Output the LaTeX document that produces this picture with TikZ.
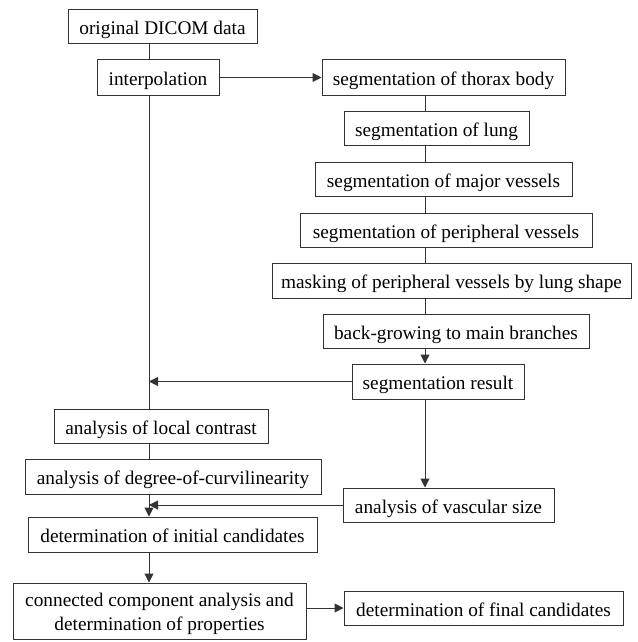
\documentclass[tikz,border=0pt]{standalone}
\usepackage{fontspec}
\setmainfont{Liberation Serif}
\usetikzlibrary{arrows.meta}
\begin{document}
\begin{tikzpicture}[x=1pt,y=-1pt,
  box/.style={draw=black!80, line width=1pt, inner sep=0pt, align=center,
    text height=16pt, text depth=0pt,
    font=\fontsize{19.3}{24}\selectfont},
  link/.style={draw=black!80, line width=1pt},
  arr/.style={link, -{Triangle[length=9pt,width=9pt]}}]
\useasboundingbox (0,0) rectangle (637,642);
\coordinate (L) at (149,0);
\coordinate (R) at (425,0);
\node[box, minimum width=189, minimum height=34] (dicom) at (162.5,27) {original DICOM data};
\node[box, minimum width=122, minimum height=35] (interp) at (158,77.5) {interpolation};
\node[box, minimum width=243, minimum height=35] (thorax) at (443.5,77.5) {segmentation of thorax body};
\node[box, minimum width=185, minimum height=34] (lung) at (436.5,128) {segmentation of lung};
\node[box, minimum width=257, minimum height=34] (major) at (443.5,179) {segmentation of major vessels};
\node[box, minimum width=292, minimum height=34] (periph) at (446,230) {segmentation of peripheral vessels};
\node[box, minimum width=359, minimum height=35] (mask) at (451.5,280.5) {masking of peripheral vessels by lung shape};
\node[box, minimum width=266, minimum height=34] (back) at (456,331) {back-growing to main branches};
\node[box, minimum width=172, minimum height=35] (result) at (438,381.5) {segmentation result};
\node[box, minimum width=214, minimum height=34] (local) at (161,426) {analysis of local contrast};
\node[box, minimum width=296, minimum height=35] (curv) at (173,476.5) {analysis of degree-of-curvilinearity};
\node[box, minimum width=211, minimum height=34] (vasc) at (448.5,505) {analysis of vascular size};
\node[box, minimum width=289, minimum height=35] (init) at (172.5,534.5) {determination of initial candidates};
\node[box, minimum width=293, minimum height=56, text height=38pt] (conn) at (159.5,611) {connected component analysis and\\determination of properties};
\node[box, minimum width=279, minimum height=34] (final) at (483.5,608) {determination of final candidates};
% left column
\draw[link] (dicom.south -| L) -- (interp.north -| L);
\draw[link] (interp.south -| L) -- (local.north -| L);
\draw[link] (local.south -| L) -- (curv.north -| L);
\draw[arr] (curv.south -| L) -- (init.north -| L);
\draw[arr] (init.south -| L) -- (conn.north -| L);
% right column
\draw[arr] (interp.east) -- (thorax.west);
\draw[link] (thorax.south -| R) -- (lung.north -| R);
\draw[link] (lung.south -| R) -- (major.north -| R);
\draw[link] (major.south -| R) -- (periph.north -| R);
\draw[link] (periph.south -| R) -- (mask.north -| R);
\draw[link] (mask.south -| R) -- (back.north -| R);
\draw[arr] (back.south -| R) -- (result.north -| R);
\draw[arr] (result.south -| R) -- (vasc.north -| R);
% cross links
\draw[arr] (result.west) -- (result.west -| L);
\draw[arr] (vasc.west) -- (vasc.west -| L);
\draw[arr] (conn.east |- final.west) -- (final.west);
\end{tikzpicture}
\end{document}
